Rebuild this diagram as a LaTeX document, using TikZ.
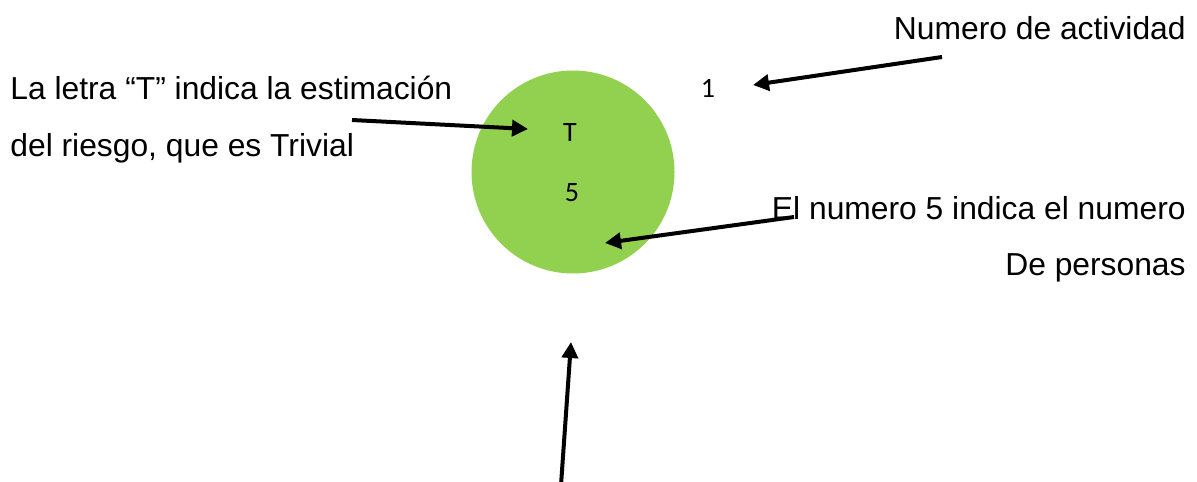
\documentclass[tikz,border=0pt]{standalone}
\usepackage{fontspec}
\setmainfont{Liberation Sans}
\newfontfamily\calibri{Carlito}
\usetikzlibrary{arrows.meta}

\definecolor{riskgreen}{RGB}{146, 208, 80}

\begin{document}
\begin{tikzpicture}[
    x=0.5pt, y=-0.5pt,
    note/.style={font=\fontsize{15.9}{18}\selectfont, inner sep=0pt},
    riskmark/.style={font=\calibri\fontsize{14}{16}\selectfont, inner sep=0pt},
    pointer/.style={line width=2pt, -{Triangle[length=8pt, width=8pt]}},
  ]
    \useasboundingbox (0, 0) rectangle (1197, 481);

    % --- the risk circle and its marks
    \fill[riskgreen] (573, 172) circle[radius=101.5];
    \node[riskmark] (T) at (570, 133) {T};
    \node[riskmark] (five) at (572, 193) {5};
    \node[riskmark] (one) at (708, 88) {1};

    % --- explanations
    \node[note, anchor=west] (letraA) at (10, 88) {La letra “T” indica la estimación};
    \node[note, anchor=west] (letraB) at (10, 148) {del riesgo, que es Trivial};
    \node[note, anchor=east] (actividad) at (1186, 28) {Numero de actividad};
    \node[note, anchor=east] (personasA) at (1186, 208) {El numero 5 indica el numero};
    \node[note, anchor=east] (personasB) at (1186, 268) {De personas};

    % --- arrow ends
    \coordinate (tA) at (352, 120);
    \coordinate (hA) at (528, 129);
    \coordinate (tB) at (942, 57);
    \coordinate (hB) at (753, 85);
    \coordinate (tC) at (794, 217);
    \coordinate (hC) at (605, 243);
    \coordinate (tD) at (561, 485);
    \coordinate (hD) at (571, 342);

    \draw[pointer] (tA) -- (hA);
    \draw[pointer] (tB) -- (hB);
    \draw[pointer] (tC) -- (hC);
    \draw[pointer] (tD) -- (hD);
  \end{tikzpicture}
\end{document}
